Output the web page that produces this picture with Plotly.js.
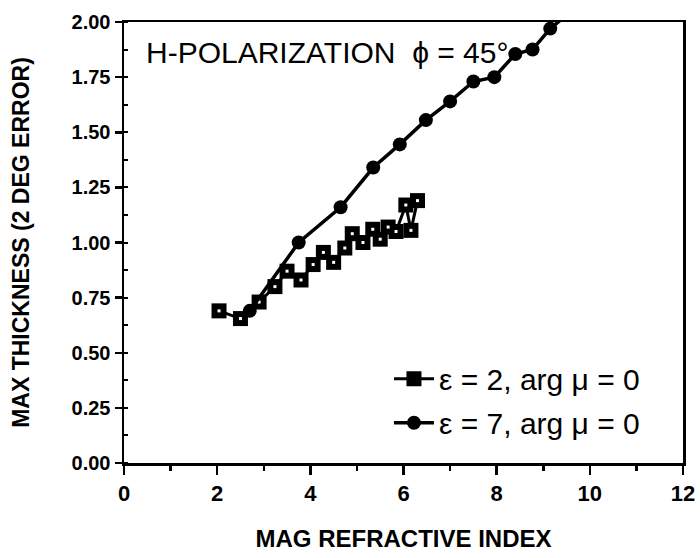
<!DOCTYPE html>
<html>
<head>
<meta charset="utf-8">
<script src="https://cdn.plot.ly/plotly-3.0.1.min.js"></script>
<style>body{margin:0;padding:0;background:#fff}#chart{width:700px;height:558px}</style>
</head>
<body>
<div id="chart"></div>
<script>
// Series: eps = 2, arg mu = 0 (square markers)
const sqX = [2.04, 2.5, 2.9, 3.24, 3.5, 3.8, 4.06, 4.28, 4.5, 4.74, 4.9, 5.13, 5.34, 5.5, 5.67, 5.84, 6.05, 6.16, 6.3];
const sqY = [0.69, 0.655, 0.73, 0.80, 0.87, 0.83, 0.90, 0.955, 0.91, 0.975, 1.04, 1.00, 1.06, 1.015, 1.07, 1.05, 1.17, 1.055, 1.19];
// Series: eps = 7, arg mu = 0 (circle markers)
const ciX = [2.7, 3.75, 4.65, 5.35, 5.92, 6.48, 7.0, 7.5, 7.95, 8.4, 8.77, 9.15, 9.55];
const ciY = [0.69, 1.0, 1.16, 1.34, 1.445, 1.555, 1.64, 1.73, 1.75, 1.855, 1.875, 1.97, 2.04];

const seriesNames = ["ε = 2, arg μ = 0", "ε = 7, arg μ = 0"];
const xTitle = "MAG REFRACTIVE INDEX";
const yTitle = "MAX THICKNESS (2 DEG ERROR)";
const plotLabel = "H-POLARIZATION  ϕ = 45°";

const FONT = "'Liberation Sans', Arial, Helvetica, sans-serif";

const traces = [
  {x: sqX, y: sqY, name: seriesNames[0], mode: "lines+markers", legendgroup: "a",
   line: {color: "#000", width: 3},
   marker: {symbol: "square", size: 15, color: "#000", line: {width: 0}}},
  {x: sqX, y: sqY, mode: "markers", showlegend: false, hoverinfo: "skip",
   marker: {symbol: "square", size: 3, color: "#fff", line: {width: 0}}},
  {x: ciX, y: ciY, name: seriesNames[1], mode: "lines+markers", legendgroup: "b",
   line: {color: "#000", width: 3.5},
   marker: {symbol: "circle", size: 14, color: "#000"}}
];

const axisCommon = {
  showline: true, mirror: true, linecolor: "#000", linewidth: 2.5,
  showgrid: false, zeroline: false, ticks: "outside", tickcolor: "#000", tickwidth: 2.5
};

const layout = {
  width: 700, height: 558,
  margin: {l: 124, r: 17, t: 22, b: 95},
  paper_bgcolor: "#fff", plot_bgcolor: "#fff",
  showlegend: true,
  xaxis: Object.assign({}, axisCommon, {
    range: [0, 12], dtick: 2, tick0: 0, ticklen: 9,
    tickfont: {family: FONT, size: 22, color: "#000", weight: "bold"},
    minor: {ticks: "outside", dtick: 1, ticklen: 5, tickwidth: 2.5, tickcolor: "#000"},
    title: {text: xTitle, standoff: 26, font: {family: FONT, size: 24, color: "#000", weight: "bold"}}
  }),
  yaxis: Object.assign({}, axisCommon, {
    range: [0, 2], dtick: 0.25, tick0: 0, ticklen: 7, tickformat: ".2f",
    tickfont: {family: FONT, size: 20, color: "#000", weight: "bold"},
    minor: {ticks: "inside", dtick: 0.125, ticklen: 4, tickwidth: 2, tickcolor: "#000"},
    title: {text: yTitle, standoff: 36, font: {family: FONT, size: 23, color: "#000", weight: "bold"}}
  }),
  legend: {
    x: 0.474, y: 0.25, xanchor: "left", yanchor: "top",
    bgcolor: "rgba(0,0,0,0)", borderwidth: 0,
    itemwidth: 40, tracegroupgap: 2,
    font: {family: FONT, size: 30, color: "#000"}
  },
  annotations: [{
    text: plotLabel, xref: "paper", yref: "paper", x: 0.036, y: 0.93,
    xanchor: "left", yanchor: "middle", showarrow: false,
    font: {family: FONT, size: 30, color: "#000"}
  }]
};

Plotly.newPlot("chart", traces, layout, {displayModeBar: false, staticPlot: true});
</script>
</body>
</html>
